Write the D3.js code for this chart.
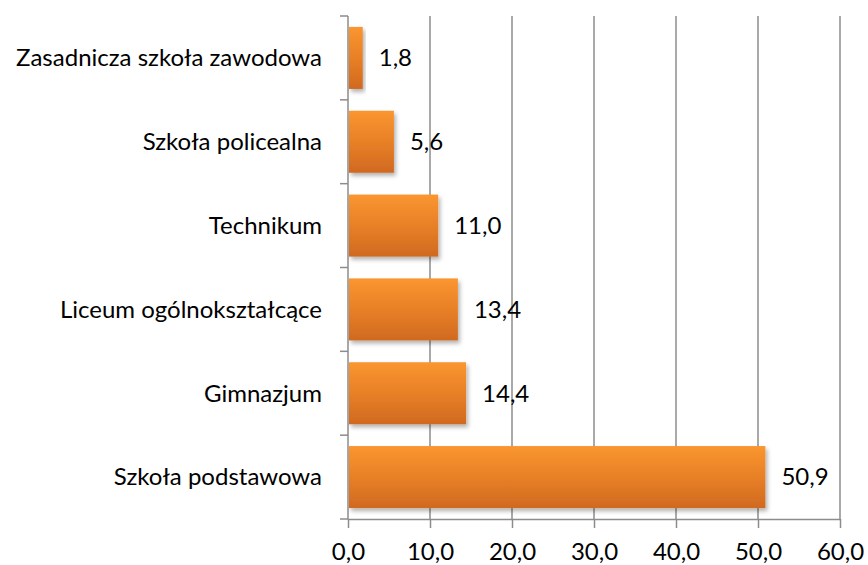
<!DOCTYPE html>
<html>
<head>
<meta charset="utf-8">
<script src="https://cdn.jsdelivr.net/npm/d3@7"></script>
<style>
  html, body { margin: 0; padding: 0; background: #fff; }
  svg { display: block; }
  text { font-family: Lato, "Open Sans", sans-serif; fill: #000; }
</style>
</head>
<body>
<svg id="chart" width="868" height="565"></svg>
<script>
// Schools, listed top to bottom, and their shares (%)
const categories = [
  "Zasadnicza szkoła zawodowa",
  "Szkoła policealna",
  "Technikum",
  "Liceum ogólnokształcące",
  "Gimnazjum",
  "Szkoła podstawowa"
];
const values = [1.8, 5.6, 11.0, 13.4, 14.4, 50.9];
const tickValues = [0, 10, 20, 30, 40, 50, 60];

const svg = d3.select("#chart");
const margin = { top: 16, right: 28, bottom: 46, left: 348 };
const W = 868, H = 565;
const fontSize = "24px";

const x = d3.scaleLinear().domain([0, 60]).range([margin.left, W - margin.right]);
const y = d3.scaleBand().domain(categories).range([margin.top, H - margin.bottom]).padding(0);
const barH = y.bandwidth() * 0.74;
const fmt = v => d3.format(".1f")(v).replace(".", ",");

const defs = svg.append("defs");
const grad = defs.append("linearGradient")
  .attr("id", "barGrad").attr("x1", 0).attr("y1", 0).attr("x2", 0).attr("y2", 1);
grad.append("stop").attr("offset", "0%").attr("stop-color", "#FA9630");
grad.append("stop").attr("offset", "50%").attr("stop-color", "#E88027");
grad.append("stop").attr("offset", "100%").attr("stop-color", "#D0691F");

const shadow = defs.append("filter").attr("id", "shadow")
  .attr("x", "-10%").attr("y", "-20%").attr("width", "130%").attr("height", "150%");
shadow.append("feDropShadow")
  .attr("dx", 2).attr("dy", 3).attr("stdDeviation", 2.2)
  .attr("flood-color", "#000").attr("flood-opacity", 0.3);

// vertical gridlines
svg.append("g")
  .selectAll("line")
  .data(tickValues.slice(1))
  .join("line")
  .attr("x1", d => x(d)).attr("x2", d => x(d))
  .attr("y1", margin.top).attr("y2", H - margin.bottom)
  .attr("stroke", "#8c8c8c").attr("stroke-width", 1.5);

// bottom axis
const xAxis = svg.append("g")
  .attr("transform", `translate(0,${H - margin.bottom})`)
  .call(d3.axisBottom(x).tickValues(tickValues).tickFormat(fmt).tickSize(9).tickSizeOuter(0));
xAxis.select(".domain").attr("stroke", "#8c8c8c").attr("stroke-width", 1.5);
xAxis.selectAll(".tick line").attr("stroke", "#8c8c8c").attr("stroke-width", 1.5);
xAxis.selectAll(".tick text")
  .attr("y", 41).attr("dy", null)
  .style("font-size", fontSize).style("font-family", "Lato, sans-serif").attr("fill", "#000");

// left axis with band boundary ticks
const yAxisG = svg.append("g");
yAxisG.append("line")
  .attr("x1", x(0)).attr("x2", x(0))
  .attr("y1", margin.top).attr("y2", H - margin.bottom)
  .attr("stroke", "#8c8c8c").attr("stroke-width", 1.5);
const boundaries = categories.map(c => y(c)).concat([y(categories[categories.length - 1]) + y.bandwidth()]);
yAxisG.selectAll("line.tick")
  .data(boundaries)
  .join("line").attr("class", "tick")
  .attr("x1", x(0) - 8).attr("x2", x(0))
  .attr("y1", d => d).attr("y2", d => d)
  .attr("stroke", "#8c8c8c").attr("stroke-width", 1.5);

// category labels
svg.append("g")
  .selectAll("text")
  .data(categories)
  .join("text")
  .attr("x", x(0) - 26)
  .attr("y", d => y(d) + y.bandwidth() / 2)
  .attr("dy", "0.35em")
  .attr("text-anchor", "end")
  .style("font-size", fontSize)
  .text(d => d);

// bars
svg.append("g")
  .selectAll("rect")
  .data(values)
  .join("rect")
  .attr("x", x(0) + 1)
  .attr("y", (d, i) => y(categories[i]) + (y.bandwidth() - barH) / 2)
  .attr("width", d => x(d) - x(0) - 1)
  .attr("height", barH)
  .attr("fill", "url(#barGrad)")
  .attr("filter", "url(#shadow)");

// value labels
svg.append("g")
  .selectAll("text")
  .data(values)
  .join("text")
  .attr("x", d => x(d) + 16)
  .attr("y", (d, i) => y(categories[i]) + y.bandwidth() / 2)
  .attr("dy", "0.35em")
  .style("font-size", fontSize)
  .text(fmt);
</script>
</body>
</html>
